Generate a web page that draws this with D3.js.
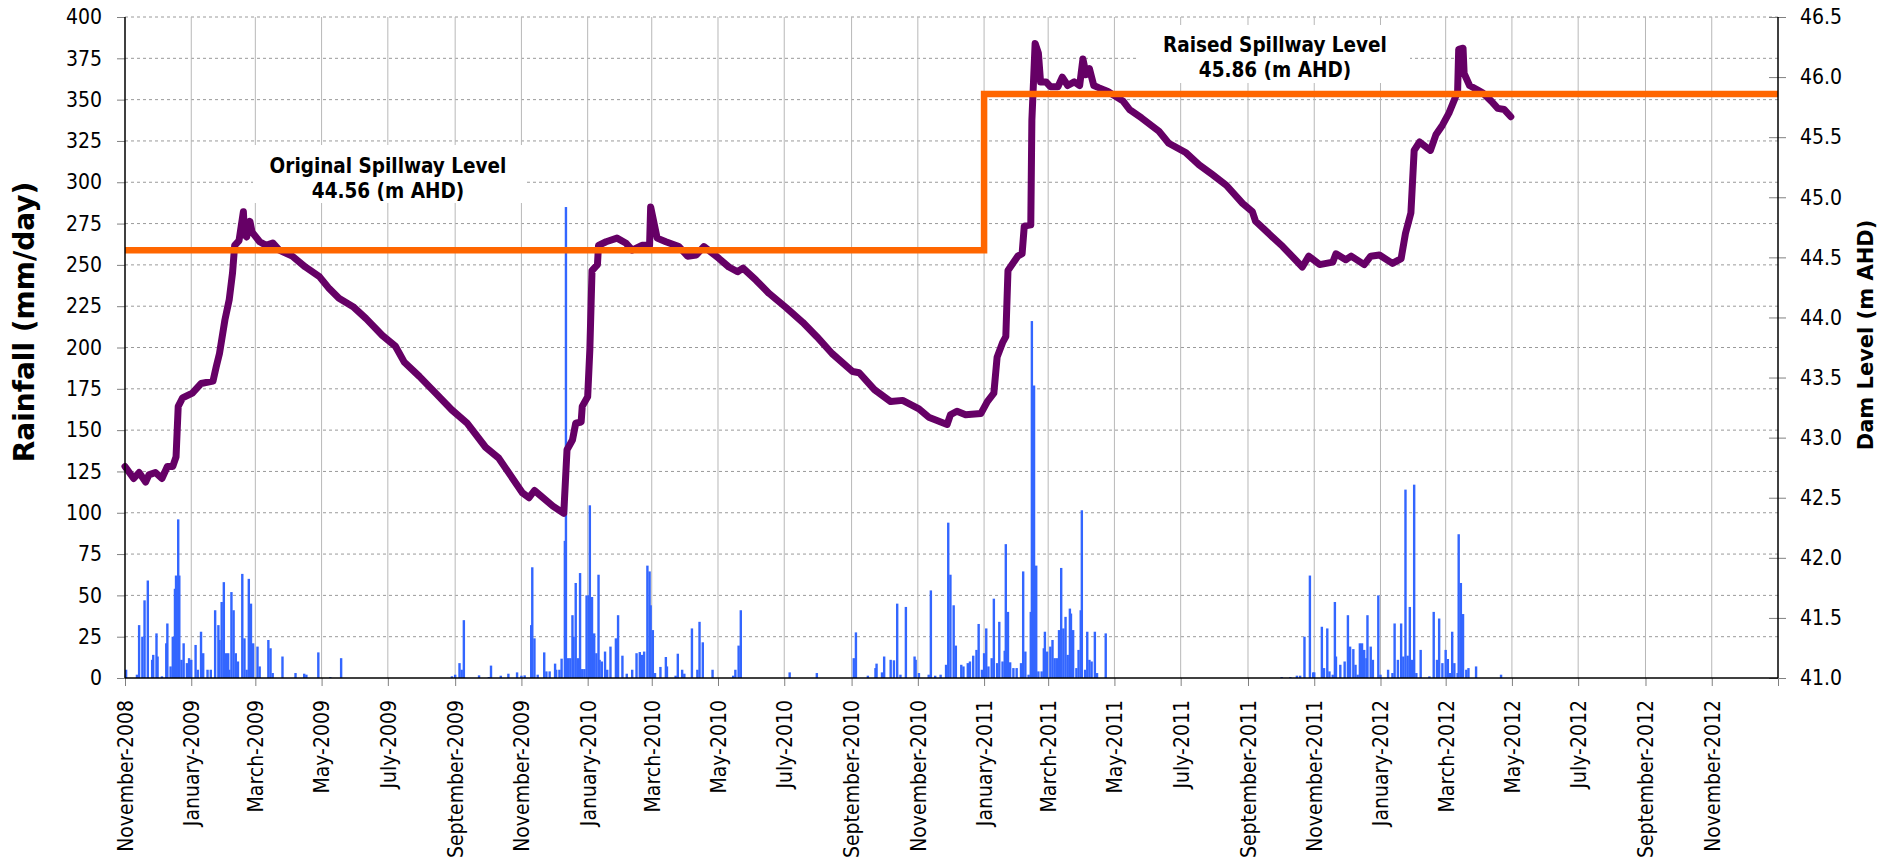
<!DOCTYPE html>
<html>
<head>
<meta charset="utf-8">
<script src="https://cdn.jsdelivr.net/npm/d3@7"></script>
<style>
  body { margin: 0; background: #fff; }
  svg { display: block; font-family: 'DejaVu Sans Condensed', 'DejaVu Sans', sans-serif; }
</style>
</head>
<body>
<div id="chart"></div>
<script>
// axis ticks
var monthTicks = ['2008-11-01', '2009-01-01', '2009-03-01', '2009-05-01', '2009-07-01', '2009-09-01',
  '2009-11-01', '2010-01-01', '2010-03-01', '2010-05-01', '2010-07-01', '2010-09-01',
  '2010-11-01', '2011-01-01', '2011-03-01', '2011-05-01', '2011-07-01', '2011-09-01',
  '2011-11-01', '2012-01-01', '2012-03-01', '2012-05-01', '2012-07-01', '2012-09-01', '2012-11-01'];
var rainTicks = [0, 25, 50, 75, 100, 125, 150, 175, 200, 225, 250, 275, 300, 325, 350, 375, 400];
var levelTicks = [41.0, 41.5, 42.0, 42.5, 43.0, 43.5, 44.0, 44.5, 45.0, 45.5, 46.0, 46.5];

// spillway level (m AHD), raised in January 2011
var spillDates = ['2008-11-01', '2011-01-01', '2013-01-01'];
var spillM = [44.56, 45.86, 45.86];

// dam level (m AHD)
var levelDates = ['2008-11-01', '2008-11-09', '2008-11-14', '2008-11-20', '2008-11-23', '2008-11-29',
  '2008-12-05', '2008-12-10', '2008-12-15', '2008-12-18', '2008-12-20', '2008-12-24',
  '2009-01-02', '2009-01-10', '2009-01-21', '2009-01-24', '2009-01-27', '2009-02-01',
  '2009-02-05', '2009-02-08', '2009-02-10', '2009-02-14', '2009-02-18', '2009-02-19',
  '2009-02-21', '2009-02-24', '2009-02-26', '2009-03-05', '2009-03-11', '2009-03-17',
  '2009-03-23', '2009-04-04', '2009-04-16', '2009-04-29', '2009-05-08', '2009-05-17',
  '2009-05-30', '2009-06-11', '2009-06-26', '2009-07-08', '2009-07-16', '2009-07-30',
  '2009-08-14', '2009-08-29', '2009-09-12', '2009-09-29', '2009-10-11', '2009-11-02',
  '2009-11-08', '2009-11-13', '2009-11-30', '2009-12-10', '2009-12-13', '2009-12-18',
  '2009-12-21', '2009-12-26', '2009-12-27', '2010-01-01', '2010-01-03', '2010-01-05',
  '2010-01-10', '2010-01-11', '2010-01-18', '2010-01-28', '2010-02-05', '2010-02-11',
  '2010-02-20', '2010-02-27', '2010-02-28', '2010-03-06', '2010-03-14', '2010-03-26',
  '2010-04-03', '2010-04-11', '2010-04-18', '2010-05-02', '2010-05-11', '2010-05-19',
  '2010-05-24', '2010-06-05', '2010-06-17', '2010-07-03', '2010-07-18', '2010-07-31',
  '2010-08-14', '2010-09-02', '2010-09-08', '2010-09-22', '2010-10-07', '2010-10-18',
  '2010-11-02', '2010-11-11', '2010-11-28', '2010-12-01', '2010-12-07', '2010-12-15',
  '2010-12-29', '2011-01-04', '2011-01-10', '2011-01-13', '2011-01-18', '2011-01-21',
  '2011-01-23', '2011-02-01', '2011-02-05', '2011-02-07', '2011-02-13', '2011-02-14',
  '2011-02-17', '2011-02-20', '2011-02-22', '2011-02-27', '2011-03-03', '2011-03-10',
  '2011-03-14', '2011-03-19', '2011-03-25', '2011-03-30', '2011-04-02', '2011-04-05',
  '2011-04-08', '2011-04-12', '2011-04-17', '2011-04-25', '2011-05-09', '2011-05-15',
  '2011-05-26', '2011-06-11', '2011-06-20', '2011-07-06', '2011-07-18', '2011-07-30',
  '2011-08-12', '2011-08-27', '2011-09-05', '2011-09-08', '2011-09-21', '2011-10-03',
  '2011-10-21', '2011-10-27', '2011-11-06', '2011-11-18', '2011-11-21', '2011-11-30',
  '2011-12-05', '2011-12-17', '2011-12-23', '2011-12-31', '2012-01-12', '2012-01-20',
  '2012-01-24', '2012-01-29', '2012-02-01', '2012-02-06', '2012-02-16', '2012-02-21',
  '2012-02-27', '2012-03-04', '2012-03-09', '2012-03-12', '2012-03-13', '2012-03-17',
  '2012-03-18', '2012-03-23', '2012-03-31', '2012-04-04', '2012-04-12', '2012-04-18',
  '2012-04-24', '2012-04-30'];
var levelM = [42.76, 42.66, 42.71, 42.63, 42.69, 42.71,
  42.66, 42.76, 42.76, 42.84, 43.26, 43.33,
  43.37, 43.45, 43.47, 43.59, 43.70, 43.98,
  44.15, 44.37, 44.60, 44.64, 44.88, 44.69,
  44.67, 44.80, 44.71, 44.63, 44.60, 44.62,
  44.56, 44.51, 44.42, 44.34, 44.24, 44.16,
  44.09, 43.99, 43.85, 43.76, 43.63, 43.51,
  43.37, 43.23, 43.12, 42.92, 42.83, 42.54,
  42.50, 42.56, 42.43, 42.37, 42.90, 42.98,
  43.12, 43.13, 43.26, 43.34, 43.73, 44.39,
  44.44, 44.60, 44.63, 44.66, 44.62, 44.56,
  44.60, 44.60, 44.92, 44.66, 44.63, 44.59,
  44.51, 44.52, 44.59, 44.49, 44.42, 44.38,
  44.41, 44.31, 44.20, 44.08, 43.96, 43.84,
  43.70, 43.55, 43.54, 43.40, 43.30, 43.31,
  43.24, 43.17, 43.11, 43.19, 43.22, 43.19,
  43.20, 43.30, 43.37, 43.67, 43.79, 43.84,
  44.39, 44.51, 44.53, 44.76, 44.77, 45.64,
  46.28, 46.20, 45.96, 45.96, 45.92, 45.92,
  46.00, 45.93, 45.96, 45.93, 46.15, 46.02,
  46.07, 45.93, 45.91, 45.88, 45.80, 45.73,
  45.66, 45.55, 45.45, 45.37, 45.27, 45.19,
  45.10, 44.95, 44.88, 44.80, 44.69, 44.59,
  44.42, 44.51, 44.44, 44.46, 44.53, 44.48,
  44.51, 44.44, 44.51, 44.52, 44.45, 44.49,
  44.70, 44.87, 45.39, 45.46, 45.39, 45.52,
  45.60, 45.70, 45.81, 45.88, 46.23, 46.24,
  46.03, 45.93, 45.89, 45.87, 45.80, 45.74,
  45.73, 45.67];

// daily rainfall (mm/day), dry days left out
var rainDates = ['2008-11-02', '2008-11-12', '2008-11-14', '2008-11-17', '2008-11-19', '2008-11-22',
  '2008-11-26', '2008-11-27', '2008-11-30', '2008-12-01', '2008-12-05', '2008-12-09',
  '2008-12-10', '2008-12-13', '2008-12-15', '2008-12-17', '2008-12-18', '2008-12-20',
  '2008-12-21', '2008-12-23', '2008-12-25', '2008-12-28', '2008-12-30', '2009-01-01',
  '2009-01-05', '2009-01-07', '2009-01-10', '2009-01-12', '2009-01-16', '2009-01-19',
  '2009-01-23', '2009-01-26', '2009-01-27', '2009-01-29', '2009-01-31', '2009-02-02',
  '2009-02-04', '2009-02-05', '2009-02-07', '2009-02-09', '2009-02-11', '2009-02-13',
  '2009-02-17', '2009-02-19', '2009-02-21', '2009-02-23', '2009-02-25', '2009-02-27',
  '2009-03-03', '2009-03-05', '2009-03-13', '2009-03-15', '2009-03-17', '2009-03-26',
  '2009-04-07', '2009-04-15', '2009-04-17', '2009-04-28', '2009-05-09', '2009-05-19',
  '2009-08-29', '2009-09-01', '2009-09-05', '2009-09-07', '2009-09-09', '2009-09-23',
  '2009-10-02', '2009-10-04', '2009-10-13', '2009-10-20', '2009-10-28', '2009-11-01',
  '2009-11-04', '2009-11-10', '2009-11-11', '2009-11-13', '2009-11-16', '2009-11-22',
  '2009-11-24', '2009-11-27', '2009-12-02', '2009-12-03', '2009-12-06', '2009-12-08',
  '2009-12-11', '2009-12-12', '2009-12-14', '2009-12-16', '2009-12-18', '2009-12-19',
  '2009-12-21', '2009-12-23', '2009-12-25', '2009-12-27', '2009-12-29', '2009-12-31',
  '2010-01-02', '2010-01-03', '2010-01-05', '2010-01-07', '2010-01-09', '2010-01-11',
  '2010-01-12', '2010-01-14', '2010-01-17', '2010-01-19', '2010-01-22', '2010-01-27',
  '2010-01-29', '2010-02-02', '2010-02-06', '2010-02-11', '2010-02-15', '2010-02-18',
  '2010-02-20', '2010-02-22', '2010-02-25', '2010-02-27', '2010-02-28', '2010-03-02',
  '2010-03-04', '2010-03-09', '2010-03-14', '2010-03-15', '2010-03-23', '2010-03-25',
  '2010-03-29', '2010-03-31', '2010-04-07', '2010-04-12', '2010-04-14', '2010-04-17',
  '2010-04-26', '2010-05-15', '2010-05-17', '2010-05-20', '2010-05-22', '2010-07-06',
  '2010-07-31', '2010-09-03', '2010-09-05', '2010-09-16', '2010-09-23', '2010-09-24',
  '2010-09-29', '2010-10-01', '2010-10-07', '2010-10-10', '2010-10-13', '2010-10-16',
  '2010-10-21', '2010-10-29', '2010-10-30', '2010-11-02', '2010-11-11', '2010-11-13',
  '2010-11-17', '2010-11-22', '2010-11-27', '2010-11-29', '2010-12-01', '2010-12-04',
  '2010-12-06', '2010-12-11', '2010-12-13', '2010-12-17', '2010-12-19', '2010-12-22',
  '2010-12-25', '2010-12-27', '2010-12-30', '2011-01-01', '2011-01-03', '2011-01-05',
  '2011-01-08', '2011-01-10', '2011-01-13', '2011-01-15', '2011-01-18', '2011-01-20',
  '2011-01-21', '2011-01-23', '2011-01-25', '2011-01-28', '2011-01-31', '2011-02-04',
  '2011-02-06', '2011-02-08', '2011-02-11', '2011-02-13', '2011-02-14', '2011-02-16',
  '2011-02-18', '2011-02-20', '2011-02-23', '2011-02-25', '2011-02-26', '2011-02-28',
  '2011-03-03', '2011-03-05', '2011-03-07', '2011-03-09', '2011-03-11', '2011-03-13',
  '2011-03-15', '2011-03-17', '2011-03-19', '2011-03-21', '2011-03-22', '2011-03-24',
  '2011-03-27', '2011-03-29', '2011-03-31', '2011-04-01', '2011-04-04', '2011-04-06',
  '2011-04-08', '2011-04-10', '2011-04-13', '2011-04-15', '2011-04-23', '2011-10-02',
  '2011-10-10', '2011-10-16', '2011-10-19', '2011-10-23', '2011-10-28', '2011-10-31',
  '2011-11-01', '2011-11-08', '2011-11-10', '2011-11-13', '2011-11-15', '2011-11-18',
  '2011-11-20', '2011-11-21', '2011-11-25', '2011-11-29', '2011-12-02', '2011-12-04',
  '2011-12-07', '2011-12-09', '2011-12-11', '2011-12-13', '2011-12-15', '2011-12-17',
  '2011-12-19', '2011-12-20', '2011-12-23', '2011-12-25', '2011-12-30', '2012-01-01',
  '2012-01-08', '2012-01-12', '2012-01-14', '2012-01-17', '2012-01-20', '2012-01-22',
  '2012-01-24', '2012-01-26', '2012-01-28', '2012-01-30', '2012-02-01', '2012-02-03',
  '2012-02-07', '2012-02-15', '2012-02-19', '2012-02-22', '2012-02-24', '2012-02-27',
  '2012-03-01', '2012-03-03', '2012-03-05', '2012-03-07', '2012-03-09', '2012-03-12',
  '2012-03-13', '2012-03-15', '2012-03-17', '2012-03-20', '2012-03-22', '2012-03-29',
  '2012-04-21'];
var rainMm = [5, 2, 32, 25, 47, 59,
  11, 14, 27, 13, 1, 21,
  33, 7, 25, 54, 62, 96,
  62, 11, 21, 9, 12, 11,
  20, 5, 28, 15, 5, 5,
  41, 32, 23, 46, 58, 15,
  15, 5, 52, 41, 15, 10,
  63, 24, 5, 60, 45, 21,
  19, 7, 23, 18, 3, 13,
  3, 2.6, 2, 15.5, 0.6, 12,
  1, 2, 9, 5, 35, 1.6,
  0.6, 7.5, 1.4, 2.6, 3.4, 1.4,
  1.6, 32, 67, 24, 2, 15.5,
  4, 4, 8.7, 5, 5, 11.7,
  83, 285, 12, 12, 38, 25,
  57.5, 12, 63.5, 5.4, 5.4, 50,
  50, 104.5, 49, 27, 15, 62.5,
  11, 10, 16, 5, 19, 24,
  38, 13.5, 2.6, 5, 15, 15.7,
  14, 16, 68, 64.5, 44, 29,
  3, 6.7, 12.7, 7, 1.4, 14.7,
  5, 2.6, 30, 5, 34, 21.6,
  5, 1.4, 5, 19.6, 41, 3.4,
  3, 12, 27.6, 1.4, 6, 8.7,
  3.4, 13, 11, 10.7, 45, 2,
  43, 13, 11, 3, 2, 53,
  1.4, 2, 8, 94, 62.5, 44,
  19.6, 8, 7, 9, 10, 13.5,
  17, 32.7, 5, 15, 30, 7,
  12, 48, 9, 34, 10, 16.5,
  81, 40, 9.5, 6, 6, 9,
  64.5, 16, 2, 40, 216, 177,
  68, 4, 4, 18, 28, 16,
  19, 23, 12, 12, 29, 66.6,
  30, 37, 14, 42, 39, 29,
  6, 17, 41, 101.5, 5, 28,
  11, 10, 28, 3, 27, 0.6,
  0.6, 1.4, 1.4, 25, 62, 3.4,
  3.4, 31, 6, 30, 4, 2,
  46, 13, 8, 10, 38, 19,
  17.5, 8, 2, 21, 21, 17,
  12, 38, 19, 11, 50, 2,
  5, 3, 33, 11, 33, 13,
  114, 13.5, 43, 11, 117, 3,
  17, 1, 40, 11, 36, 9,
  17, 11.5, 3, 28, 9, 3,
  87, 57.5, 38.7, 5, 6, 7,
  2];

var width = 1894;
var height = 861;
var plotLeft = 125;
var plotRight = 1778;
var plotTop = 17;
var plotBottom = 678;
var parse = d3.utcParse('%Y-%m-%d');
var fmtMonth = d3.utcFormat('%B-%Y');

var x = d3.scaleUtc().domain([parse('2008-11-01'), parse('2013-01-01')]).range([plotLeft, plotRight]);
var yRain = d3.scaleLinear().domain([0, 400]).range([plotBottom, plotTop]);
var yLevel = d3.scaleLinear().domain([41, 46.5]).range([plotBottom, plotTop]);

var svg = d3.select('#chart').append('svg').attr('width', width).attr('height', height);

// gridlines
svg.append('g').selectAll('line').data(rainTicks.filter(function(d) { return d > 0; })).join('line')
  .attr('x1', plotLeft).attr('x2', plotRight)
  .attr('y1', function(d) { return yRain(d); }).attr('y2', function(d) { return yRain(d); })
  .attr('stroke', '#9a9a9a').attr('stroke-dasharray', '3,3');
svg.append('g').selectAll('line').data(monthTicks.slice(1)).join('line')
  .attr('x1', function(d) { return x(parse(d)); }).attr('x2', function(d) { return x(parse(d)); })
  .attr('y1', plotTop).attr('y2', plotBottom)
  .attr('stroke', '#b8b8b8');

// white boxes behind the annotations
var notes = svg.append('g');
notes.append('rect').attr('x', 253).attr('y', 145).attr('width', 272).attr('height', 58).attr('fill', '#fff');
notes.append('rect').attr('x', 1138).attr('y', 25).attr('width', 272).attr('height', 58).attr('fill', '#fff');

// rainfall bars
svg.append('g').selectAll('rect').data(rainDates).join('rect')
  .attr('x', function(d) { return x(parse(d)) - 1.2; })
  .attr('width', 2.4)
  .attr('y', function(d, i) { return yRain(rainMm[i]); })
  .attr('height', function(d, i) { return plotBottom - yRain(rainMm[i]); })
  .attr('fill', '#3366ff');

// dam level
var levelLine = d3.line()
  .x(function(d) { return x(parse(d[0])); })
  .y(function(d) { return yLevel(d[1]); });
svg.append('path').datum(d3.zip(levelDates, levelM))
  .attr('d', levelLine)
  .attr('fill', 'none').attr('stroke', '#660066').attr('stroke-width', 7)
  .attr('stroke-linejoin', 'round').attr('stroke-linecap', 'round');

// spillway
var spillLine = d3.line().curve(d3.curveStepAfter)
  .x(function(d) { return x(parse(d[0])); })
  .y(function(d) { return yLevel(d[1]); });
svg.append('path').datum(d3.zip(spillDates, spillM))
  .attr('d', spillLine)
  .attr('fill', 'none').attr('stroke', '#ff6600').attr('stroke-width', 6.5)
  .attr('stroke-linejoin', 'miter');

// axes
var axisLeft = svg.append('g').attr('transform', 'translate(' + plotLeft + ',0)')
  .call(d3.axisLeft(yRain).tickValues(rainTicks).tickSize(8).tickPadding(15));
var axisRight = svg.append('g').attr('transform', 'translate(' + plotRight + ',0)')
  .call(d3.axisRight(yLevel).tickValues(levelTicks).tickFormat(d3.format('.1f')).tickSize(8).tickPadding(14));
axisRight.selectAll('.tick line').attr('x1', -9);
var axisBottom = svg.append('g').attr('transform', 'translate(0,' + plotBottom + ')')
  .call(d3.axisBottom(x).tickValues(monthTicks.concat(['2013-01-01']).map(parse))
    .tickSize(8).tickFormat(function(d) { return d.getUTCFullYear() > 2012 ? '' : fmtMonth(d); }));
axisBottom.selectAll('text')
  .attr('transform', 'rotate(-90)').attr('x', -22).attr('y', 0).attr('dy', '0.35em')
  .style('text-anchor', 'end');

[axisLeft, axisRight, axisBottom].forEach(function(a) {
  a.select('.domain').remove();
  a.attr('font-family', null).attr('font-size', 21);
  a.selectAll('.tick line').attr('stroke', '#808080');
  a.selectAll('text').attr('fill', '#000');
});

// frame
svg.append('line').attr('x1', plotLeft).attr('x2', plotLeft).attr('y1', plotTop).attr('y2', plotBottom).attr('stroke', '#000').attr('stroke-width', 1.5);
svg.append('line').attr('x1', plotRight).attr('x2', plotRight).attr('y1', plotTop).attr('y2', plotBottom).attr('stroke', '#000').attr('stroke-width', 1.5);
svg.append('line').attr('x1', plotLeft).attr('x2', plotRight).attr('y1', plotBottom).attr('y2', plotBottom).attr('stroke', '#000').attr('stroke-width', 1.5);

// axis titles
svg.append('text').attr('transform', 'translate(34,322) rotate(-90)')
  .attr('text-anchor', 'middle').attr('font-family', 'DejaVu Sans').attr('font-weight', 'bold').attr('font-size', 28)
  .text('Rainfall (mm/day)');
svg.append('text').attr('transform', 'translate(1873,335) rotate(-90)')
  .attr('text-anchor', 'middle').attr('font-family', 'DejaVu Sans').attr('font-weight', 'bold').attr('font-size', 21)
  .text('Dam Level (m AHD)');

// annotations
notes.append('text').attr('x', 388).attr('y', 173).attr('text-anchor', 'middle')
  .attr('font-weight', 'bold').attr('font-size', 20.5).text('Original Spillway Level');
notes.append('text').attr('x', 388).attr('y', 198).attr('text-anchor', 'middle')
  .attr('font-weight', 'bold').attr('font-size', 20.5).text('44.56 (m AHD)');
notes.append('text').attr('x', 1275).attr('y', 52).attr('text-anchor', 'middle')
  .attr('font-weight', 'bold').attr('font-size', 20.5).text('Raised Spillway Level');
notes.append('text').attr('x', 1275).attr('y', 77).attr('text-anchor', 'middle')
  .attr('font-weight', 'bold').attr('font-size', 20.5).text('45.86 (m AHD)');
</script>
</body>
</html>
